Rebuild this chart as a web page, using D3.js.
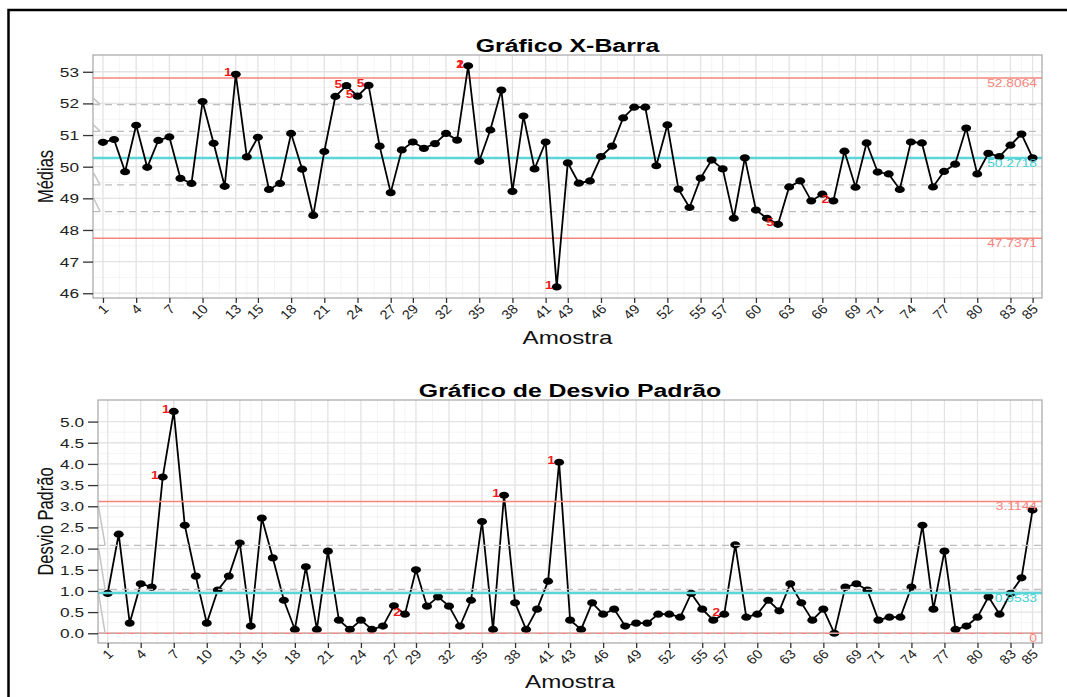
<!DOCTYPE html>
<html>
<head>
<meta charset="utf-8">
<script src="https://cdn.jsdelivr.net/npm/d3@7"></script>
<style>
  body { margin: 0; background: #fff; }
  text { font-family: "Liberation Sans", Arial, sans-serif; }
</style>
</head>
<body>
<svg id="chart" width="1067" height="697"></svg>
<script>
// tick labels on the sample axis (as printed)
var tickLabels = [1, 4, 7, 10, 13, 15, 18, 21, 24, 27, 29, 32, 35, 38, 41, 43, 46, 49, 52, 55, 57, 60, 63, 66, 69, 71, 74, 77, 80, 83, 85];

// sample means, samples 1..85
var xbarValues = [50.77, 50.86, 49.84, 51.31, 49.98, 50.83, 50.94, 49.63, 49.47, 52.06,
  50.74, 49.38, 52.92, 50.31, 50.93, 49.28, 49.47, 51.05, 49.92, 48.46,
  50.48, 52.22, 52.56, 52.23, 52.57, 50.65, 49.18, 50.53, 50.78, 50.58,
  50.73, 51.05, 50.84, 53.19, 50.17, 51.16, 52.42, 49.22, 51.60, 49.93,
  50.78, 46.20, 50.12, 49.48, 49.55, 50.32, 50.65, 51.54, 51.88, 51.88,
  50.03, 51.32, 49.29, 48.71, 49.64, 50.21, 49.93, 48.37, 50.28, 48.63,
  48.37, 48.18, 49.36, 49.55, 48.92, 49.13, 48.92, 50.49, 49.35, 50.75,
  49.83, 49.77, 49.28, 50.78, 50.75, 49.36, 49.85, 50.08, 51.22, 49.77,
  50.42, 50.32, 50.68, 51.03, 50.28];

// sample standard deviations, samples 1..85
var sdValues = [0.94, 2.34, 0.24, 1.17, 1.09, 3.69, 5.24, 2.55, 1.35, 0.24,
  1.02, 1.35, 2.13, 0.17, 2.72, 1.78, 0.78, 0.09, 1.57, 0.09,
  1.94, 0.31, 0.09, 0.31, 0.09, 0.17, 0.65, 0.45, 1.50, 0.64,
  0.86, 0.64, 0.17, 0.78, 2.64, 0.09, 3.26, 0.72, 0.09, 0.57,
  1.23, 4.04, 0.31, 0.09, 0.72, 0.45, 0.57, 0.17, 0.24, 0.24,
  0.45, 0.45, 0.38, 0.94, 0.57, 0.31, 0.45, 2.09, 0.38, 0.45,
  0.78, 0.53, 1.17, 0.72, 0.31, 0.57, 0.00, 1.09, 1.17, 1.02,
  0.31, 0.38, 0.38, 1.09, 2.55, 0.57, 1.94, 0.09, 0.17, 0.38,
  0.86, 0.45, 0.94, 1.31, 2.91];

// control limits: LCL, CL, UCL
var xbarLimits = [47.7371, 50.2718, 52.8064];
var sdLimits = [0, 0.9533, 3.1144];

// zone lines (dashed)
var xbarZones = [48.5822, 49.4267, 51.1167, 51.9613];
var sdZones = [0, 1.0381, 2.0763];

// little grey leader segments on the left edge: [from, to]
var xbarMarks = [[52.16, 51.9613], [51.32, 51.1167], [49.80, 49.4267], [49.01, 48.5822]];
var sdMarks = [[2.99, 2.0763], [2.01, 1.0381], [0.945, 0]];

// rule violation labels: [sample, rule]
var xbarRules = [[13, '1'], [23, '5'], [24, '5'], [25, '5'], [34, '1'], [34, '2'], [42, '1'], [62, '5'], [67, '2']];
var sdRules = [[6, '1'], [7, '1'], [28, '2'], [37, '1'], [42, '1'], [57, '2']];

var xbarTicks = [46, 47, 48, 49, 50, 51, 52, 53];
var sdTicks = [0, 0.5, 1, 1.5, 2, 2.5, 3, 3.5, 4, 4.5, 5];

var SX = 1.38; // the reference is stretched sideways
var svg = d3.select('#chart');

// frame
svg.append('path')
  .attr('d', 'M8.5,697 L8.5,10 L1067,10')
  .attr('fill', 'none')
  .attr('stroke', '#000')
  .attr('stroke-width', 2.5);

function stretched(g, x, y, txt, size, anchor) {
  return g.append('text')
    .attr('transform', 'translate(' + x + ',' + y + ') scale(' + SX + ',1)')
    .attr('text-anchor', anchor || 'middle')
    .style('font-size', size + 'px')
    .text(txt);
}

function midpoints(arr) {
  var out = [];
  for (var i = 0; i < arr.length - 1; i++) out.push((arr[i] + arr[i + 1]) / 2);
  return out;
}

function drawPanel(p) {
  var g = svg.append('g');
  var samples = d3.range(1, p.values.length + 1);

  var x = d3.scaleLinear().domain(p.xDomain).range([p.left, p.right]);
  var y = d3.scaleLinear().domain(p.yDomain).range([p.bottom, p.top]);

  // grid
  g.selectAll('.gx-minor').data(midpoints(tickLabels)).enter().append('line')
    .attr('x1', d => x(d)).attr('x2', d => x(d))
    .attr('y1', p.top).attr('y2', p.bottom)
    .attr('stroke', '#f1f1f1').attr('stroke-width', 0.8);
  g.selectAll('.gy-minor').data(midpoints(p.yTicks)).enter().append('line')
    .attr('y1', d => y(d)).attr('y2', d => y(d))
    .attr('x1', p.left).attr('x2', p.right)
    .attr('stroke', '#f1f1f1').attr('stroke-width', 0.8);
  g.selectAll('.gx').data(tickLabels).enter().append('line')
    .attr('x1', d => x(d)).attr('x2', d => x(d))
    .attr('y1', p.top).attr('y2', p.bottom)
    .attr('stroke', '#e3e3e3').attr('stroke-width', 1.3);
  g.selectAll('.gy').data(p.yTicks).enter().append('line')
    .attr('y1', d => y(d)).attr('y2', d => y(d))
    .attr('x1', p.left).attr('x2', p.right)
    .attr('stroke', '#e3e3e3').attr('stroke-width', 1.3);

  var limitColors = ['#f7857c', '#5ad5d8', '#f7857c'];

  function drawLines() {
    g.selectAll('.lim' + p.name).data(p.limits).enter().append('line')
      .attr('x1', p.left).attr('x2', p.right)
      .attr('y1', d => y(d)).attr('y2', d => y(d))
      .attr('stroke', (d, i) => limitColors[i])
      .attr('stroke-width', (d, i) => i === 1 ? 2.5 : 1.5);
    g.selectAll('.zone' + p.name).data(p.zones).enter().append('line')
      .attr('x1', p.left).attr('x2', p.right)
      .attr('y1', d => y(d)).attr('y2', d => y(d))
      .attr('stroke', '#bdbdbd')
      .attr('stroke-width', 1.2)
      .attr('stroke-dasharray', '7,5');
    g.selectAll('.mark' + p.name).data(p.marks).enter().append('line')
      .attr('x1', x(p.xDomain[0] + 0.05)).attr('x2', x(p.xDomain[0] + 0.65))
      .attr('y1', d => y(d[0])).attr('y2', d => y(d[1]))
      .attr('stroke', '#c4c4c4').attr('stroke-width', 1.5);
  }

  if (!p.linesOnTop) drawLines();

  // series
  var line = d3.line().x((d, i) => x(samples[i])).y(d => y(d));
  g.append('path').datum(p.values)
    .attr('d', line)
    .attr('fill', 'none')
    .attr('stroke', '#000')
    .attr('stroke-width', 1.8);
  g.selectAll('.pt' + p.name).data(p.values).enter().append('ellipse')
    .attr('cx', (d, i) => x(samples[i]))
    .attr('cy', d => y(d))
    .attr('rx', 5).attr('ry', 3.6)
    .attr('fill', '#000');

  if (p.linesOnTop) drawLines();

  // limit labels
  p.limits.forEach(function(v, i) {
    var lab = (i === 0 && v === 0) ? '0' : v.toFixed(4);
    stretched(g, p.right - 5, y(v) + 9, lab, 10, 'end')
      .attr('fill', i === 1 ? '#3fd0d4' : '#f7857c');
  });

  // rule labels
  p.rules.forEach(function(r) {
    stretched(g, x(r[0]) - 8, y(p.values[r[0] - 1]) + 2, r[1], 10, 'middle')
      .attr('fill', '#f01a1a')
      .style('font-weight', 'bold');
  });

  // panel border
  g.append('rect')
    .attr('x', p.left).attr('y', p.top)
    .attr('width', p.right - p.left).attr('height', p.bottom - p.top)
    .attr('fill', 'none').attr('stroke', '#a6a6a6').attr('stroke-width', 1.2);

  // y axis
  var yAxis = g.append('g')
    .attr('transform', 'translate(' + p.left + ',0)')
    .call(d3.axisLeft(y).tickValues(p.yTicks).tickFormat(p.yFmt).tickSize(10).tickPadding(4));
  yAxis.select('.domain').remove();
  yAxis.selectAll('.tick line').attr('stroke', '#333').attr('stroke-width', 1.3);
  yAxis.selectAll('.tick text')
    .attr('x', -14 / SX)
    .attr('dy', '0.36em')
    .attr('transform', 'scale(' + SX + ',1)')
    .attr('fill', '#222')
    .style('font-size', '12.5px')
    .style('font-family', '"Liberation Sans", Arial, sans-serif');

  // x axis
  var xAxis = g.append('g')
    .attr('transform', 'translate(0,' + p.bottom + ')')
    .call(d3.axisBottom(x).tickValues(tickLabels).tickSize(5));
  xAxis.select('.domain').remove();
  xAxis.selectAll('.tick line').attr('stroke', '#333').attr('stroke-width', 1.3);
  xAxis.selectAll('.tick text')
    .attr('x', 0).attr('y', 0).attr('dy', null)
    .attr('text-anchor', 'end')
    .attr('transform', 'translate(6,12) scale(1.12,1) rotate(-45)')
    .attr('fill', '#222')
    .style('font-size', '13px')
    .style('font-family', '"Liberation Sans", Arial, sans-serif');

  // titles
  stretched(g, (p.left + p.right) / 2, p.top - 3, p.title, 18, 'middle')
    .style('font-weight', 'bold');
  stretched(g, (p.left + p.right) / 2, p.xTitleY, 'Amostra', 17.5, 'middle')
    .attr('fill', '#111');
  g.append('text')
    .attr('transform', 'translate(53,' + (p.top + p.bottom) / 2 + ') scale(' + SX + ',1) rotate(-90)')
    .attr('text-anchor', 'middle')
    .style('font-size', '16.5px')
    .attr('fill', '#111')
    .text(p.yTitle);
}

drawPanel({
  name: 'xbar',
  values: xbarValues,
  limits: xbarLimits,
  zones: xbarZones,
  marks: xbarMarks,
  rules: xbarRules,
  yTicks: xbarTicks,
  yFmt: d3.format('d'),
  xDomain: [0.1, 85.85],
  yDomain: [45.85, 53.53],
  left: 93, right: 1042, top: 55, bottom: 298,
  title: 'Gráfico X-Barra',
  yTitle: 'Médias',
  xTitleY: 344,
  linesOnTop: false
});

drawPanel({
  name: 'sd',
  values: sdValues,
  limits: sdLimits,
  zones: sdZones,
  marks: sdMarks,
  rules: sdRules,
  yTicks: sdTicks,
  yFmt: d3.format('.1f'),
  xDomain: [0.12, 85.86],
  yDomain: [-0.23, 5.51],
  left: 98, right: 1042, top: 400, bottom: 643,
  title: 'Gráfico de Desvio Padrão',
  yTitle: 'Desvio Padrão',
  xTitleY: 688,
  linesOnTop: true
});
</script>
</body>
</html>
